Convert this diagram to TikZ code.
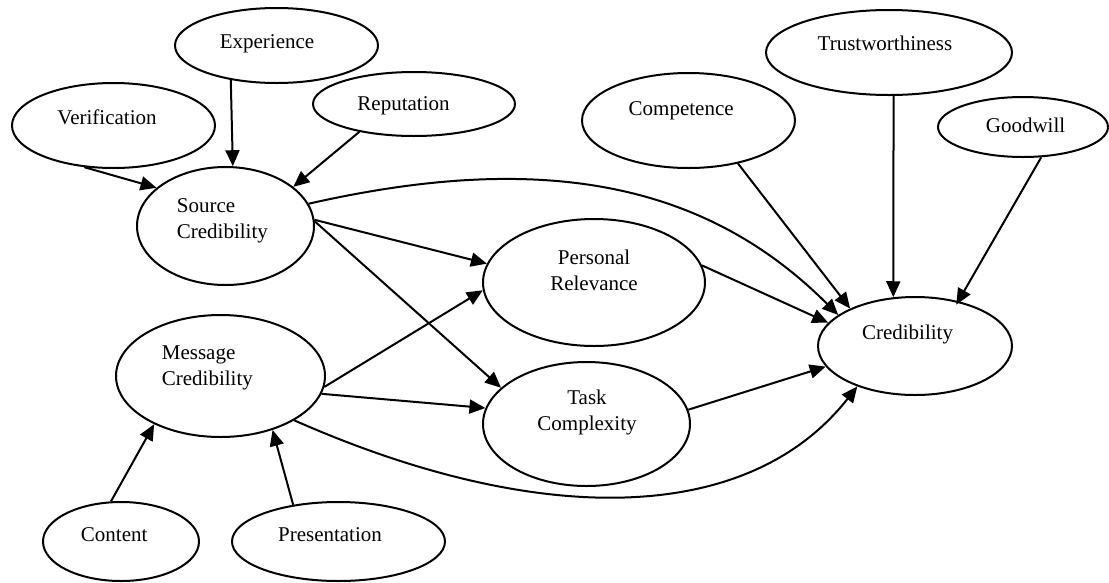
\documentclass[tikz,border=0pt]{standalone}
\usepackage{fontspec}
\setmainfont{Liberation Serif}
\usetikzlibrary{arrows.meta,shapes.geometric}
\begin{document}
\begin{tikzpicture}[x=1pt,y=-1pt,
  bubble/.style={ellipse,draw,line width=2pt,inner sep=0pt},
  lbl/.style={font=\fontsize{21}{26}\selectfont,inner sep=0pt,anchor=base},
  link/.style={line width=2pt,-{Triangle[length=16pt,width=14pt]}}]
\useasboundingbox (0,0) rectangle (1109,582);

% construct ellipses
\node[bubble,minimum width=203pt,minimum height=85pt] (ver)   at (113.5,125.5) {};
\node[bubble,minimum width=203pt,minimum height=75pt] (exp)   at (276.5,45.5) {};
\node[bubble,minimum width=202pt,minimum height=64pt] (rep)   at (414,104) {};
\node[bubble,minimum width=177pt,minimum height=118pt] (src)  at (225.5,226) {};
\node[bubble,minimum width=209pt,minimum height=122pt] (msg)  at (220.5,376) {};
\node[bubble,minimum width=222pt,minimum height=127pt] (per)  at (594,282.5) {};
\node[bubble,minimum width=207pt,minimum height=124pt] (task) at (586.5,424) {};
\node[bubble,minimum width=194pt,minimum height=98pt] (cred)  at (915,346) {};
\node[bubble,minimum width=213pt,minimum height=95pt] (comp)  at (688.5,120.5) {};
\node[bubble,minimum width=246pt,minimum height=85pt] (trust) at (889,52.5) {};
\node[bubble,minimum width=170pt,minimum height=60pt] (good)  at (1023,127) {};
\node[bubble,minimum width=156pt,minimum height=79pt] (cont)  at (121,541.5) {};
\node[bubble,minimum width=213pt,minimum height=79pt] (pres)  at (338.5,541.5) {};

% labels (two-line labels sit on the baseline of their last line)
\node[lbl] (ver-t)   at (107,124) {Verification};
\node[lbl] (exp-t)   at (267,48.3) {Experience};
\node[lbl] (rep-t)   at (403.5,110) {Reputation};
\node[lbl,align=left,anchor=base west] (src-t) at (176.7,238.3) {Source\\Credibility};
\node[lbl,align=left,anchor=base west] (msg-t) at (161.7,385.5) {Message\\Credibility};
\node[lbl,align=center] (per-t)  at (594,290) {Personal\\Relevance};
\node[lbl,align=center] (task-t) at (587,430.7) {Task\\Complexity};
\node[lbl] (cred-t)  at (907.5,339.3) {Credibility};
\node[lbl] (comp-t)  at (681.2,115.7) {Competence};
\node[lbl] (trust-t) at (885,50.7) {Trustworthiness};
\node[lbl] (good-t)  at (1025.5,132.3) {Goodwill};
\node[lbl] (cont-t)  at (114.2,541) {Content};
\node[lbl] (pres-t)  at (330,541) {Presentation};

% source side
\draw[link] (ver.235.5) -- (src.151);
\draw[link] (exp.217.1) -- (src.83.7);
\draw[link] (rep.207.7) -- (src.30);
\draw[link] (src.15.8) .. controls +(233,-53) and +(-133,-133) .. (cred.158.7);
\draw[link] (src.4.6) -- (per.170.5);
\draw[link] (src.3) -- (task.157.9);

% message side
\draw[link] (cont.104.2) -- (msg.216.8);
\draw[link] (pres.141.1) -- (msg.-46.6);
\draw[link] (msg.-6) -- (per.184);
\draw[link] (msg.-10.6) -- (task.171.2);
\draw[link] (msg.-31.2) .. controls +(242,107) and +(-110,140) .. (cred.215.3);

% into credibility
\draw[link] (per.9.9) -- (cred.165.7);
\draw[link] (task.8.8) -- (cred.193.5);
\draw[link] (comp.-41.1) -- (cred.150.8);
\draw[link] (trust.-84.6) -- (cred.114.8);
\draw[link,shorten >=-4pt] (good.-59.8) -- (cred.46.5);
\end{tikzpicture}
\end{document}
